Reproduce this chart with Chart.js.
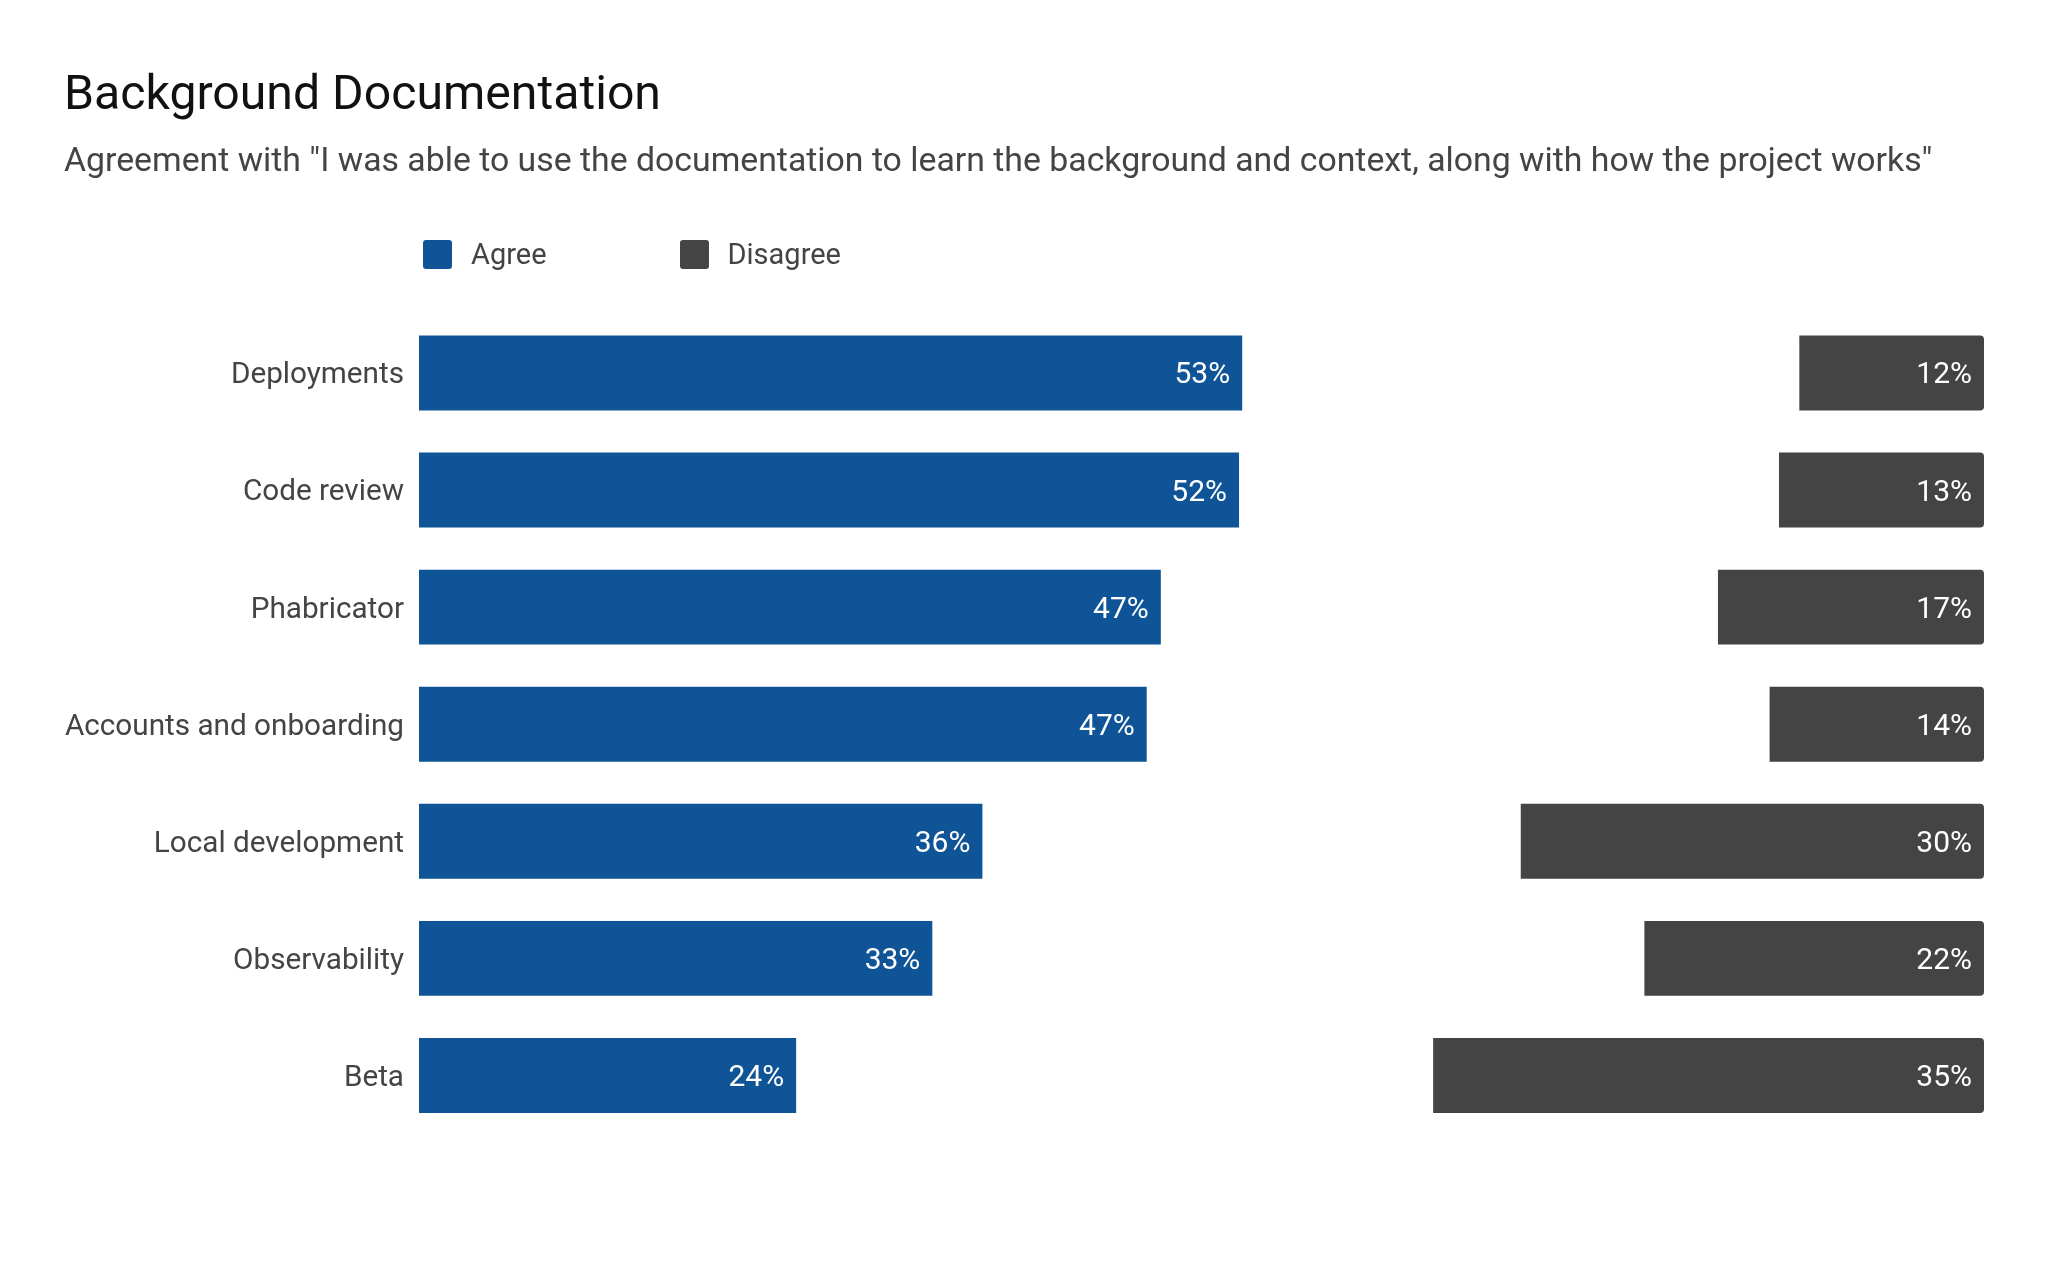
<!DOCTYPE html>
<html>
<head>
<meta charset="utf-8">
<script src="https://cdn.jsdelivr.net/npm/chart.js@4.4.1/dist/chart.umd.min.js"></script>
<style>
  html, body { margin: 0; padding: 0; background: #fff; }
  #wrap { position: relative; width: 2048px; height: 1267px; }
  #legend { position: absolute; display: flex; align-items: center; font-family: Roboto, sans-serif; font-size: 29px; color: #444; }
  #legend .item { display: flex; align-items: center; margin-right: 133px; }
  #legend .box { width: 29px; height: 29px; border-radius: 3px; margin-right: 19px; }
</style>
</head>
<body>
<div id="wrap">
  <canvas id="chart"></canvas>
  <div id="legend"></div>
</div>
<script>
// survey data, percent of respondents
const categories = ["Deployments", "Code review", "Phabricator", "Accounts and onboarding", "Local development", "Observability", "Beta"];
const agree = [52.6, 52.4, 47.4, 46.5, 36.0, 32.8, 24.1];
const disagree = [11.8, 13.1, 17.0, 13.7, 29.6, 21.7, 35.2];
// whatever is left over is neither agree nor disagree (drawn invisible)
const neutral = categories.map((c, i) => +(100 - agree[i] - disagree[i]).toFixed(1));

const AGREE_COLOR = "#0e5496";
const DISAGREE_COLOR = "#444444";

const htmlLegend = {
  id: "htmlLegend",
  afterUpdate(chart) {
    const el = document.getElementById("legend");
    el.innerHTML = "";
    chart.data.datasets.forEach(ds => {
      if (ds.hideInLegend) return;
      const item = document.createElement("div");
      item.className = "item";
      const box = document.createElement("span");
      box.className = "box";
      box.style.background = ds.backgroundColor;
      const txt = document.createElement("span");
      txt.textContent = ds.label;
      item.appendChild(box);
      item.appendChild(txt);
      el.appendChild(item);
    });
    el.style.left = (chart.chartArea.left + 4) + "px";
    el.style.top = "254px";
    el.style.transform = "translateY(-50%)";
  }
};

const barLabels = {
  id: "barLabels",
  afterDatasetsDraw(chart) {
    const ctx = chart.ctx;
    ctx.save();
    ctx.font = "30px Roboto";
    ctx.fillStyle = "#ffffff";
    ctx.textAlign = "right";
    ctx.textBaseline = "middle";
    chart.data.datasets.forEach((ds, di) => {
      if (ds.hideInLegend) return;
      chart.getDatasetMeta(di).data.forEach((bar, i) => {
        ctx.fillText(Math.round(ds.data[i]) + "%", bar.x - 12, bar.y + 3);
      });
    });
    ctx.restore();
  }
};

const ctx = document.getElementById("chart").getContext("2d");

new Chart(ctx, {
  type: "bar",
  data: {
    labels: categories,
    datasets: [{
      label: "Agree",
      data: agree,
      backgroundColor: AGREE_COLOR,
      borderSkipped: false
    }, {
      label: "Neutral",
      data: neutral,
      backgroundColor: "rgba(0,0,0,0)",
      hideInLegend: true
    }, {
      label: "Disagree",
      data: disagree,
      backgroundColor: DISAGREE_COLOR,
      borderRadius: { topRight: 4, bottomRight: 4, topLeft: 0, bottomLeft: 0 },
      borderSkipped: false
    }]
  },
  options: {
    indexAxis: "y",
    responsive: true,
    maintainAspectRatio: false,
    animation: false,
    categoryPercentage: 0.8,
    barPercentage: 0.8,
    layout: {
      padding: { left: 64, right: 64, top: 0, bottom: 133 }
    },
    scales: {
      x: {
        stacked: true,
        min: 0,
        max: 100,
        display: false
      },
      y: {
        stacked: true,
        grid: { display: false, drawTicks: false },
        border: { display: false },
        ticks: {
          color: "#444",
          padding: 15,
          labelOffset: 3,
          font: { family: "Roboto", size: 29.7 }
        },
        afterFit(scale) { scale.width = 355; }
      }
    },
    plugins: {
      legend: { display: false },
      tooltip: { enabled: false },
      title: {
        display: true,
        text: "Background Documentation",
        align: "start",
        color: "#111",
        font: { family: "Roboto", size: 48.2, weight: "normal" },
        padding: { top: 68, bottom: 16 }
      },
      subtitle: {
        display: true,
        text: "Agreement with \"I was able to use the documentation to learn the background and context, along with how the project works\"",
        align: "start",
        color: "#444",
        font: { family: "Roboto", size: 33.8 },
        padding: { top: 0, bottom: 132 }
      }
    }
  },
  plugins: [htmlLegend, barLabels]
});
</script>
</body>
</html>
